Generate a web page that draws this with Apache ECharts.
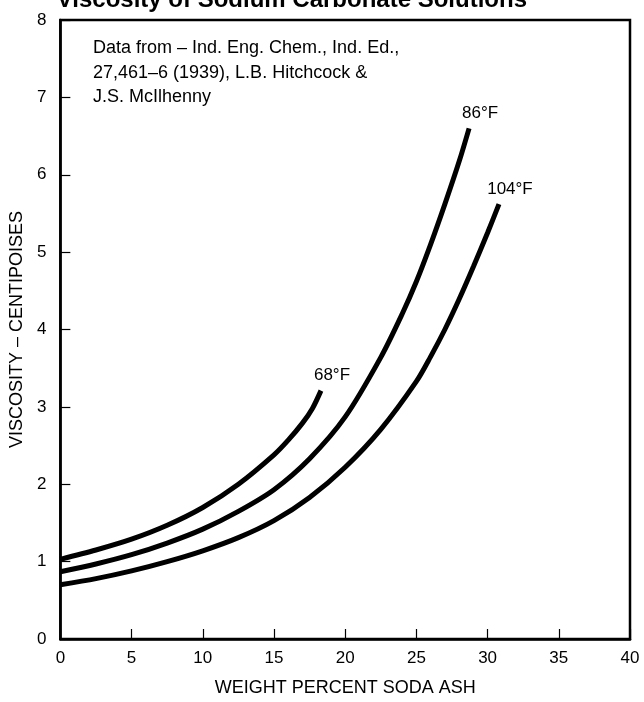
<!DOCTYPE html>
<html>
<head>
<meta charset="utf-8">
<script src="https://cdn.jsdelivr.net/npm/echarts@6/dist/echarts.min.js"></script>
<style>html,body{margin:0;padding:0;background:#fff}#c{width:644px;height:702px}</style>
</head>
<body>
<div id="c"></div>
<script>
var xTicks = [0, 5, 10, 15, 20, 25, 30, 35, 40];
var yTicks = [0, 1, 2, 3, 4, 5, 6, 7, 8];

var x68 = [0, 2.5, 5, 7.5, 10, 12.5, 15, 16, 17, 17.7, 18.3];
var v68 = [1.03, 1.15, 1.29, 1.47, 1.70, 2.00, 2.38, 2.57, 2.79, 2.98, 3.21];

var x86 = [0, 2.5, 5, 7.5, 10, 12.5, 15, 17.5, 20, 22.5, 24, 25, 26, 27, 28, 28.7];
var v86 = [0.87, 0.97, 1.09, 1.24, 1.42, 1.65, 1.93, 2.33, 2.87, 3.64, 4.20, 4.62, 5.10, 5.62, 6.17, 6.60];

var x104 = [0, 2.5, 5, 7.5, 10, 12.5, 15, 17.5, 20, 22.5, 25, 26, 27, 28, 29, 30, 30.8];
var v104 = [0.70, 0.78, 0.88, 1.00, 1.14, 1.31, 1.53, 1.83, 2.22, 2.71, 3.33, 3.65, 4.00, 4.39, 4.81, 5.25, 5.62];

var names = ['68°F', '86°F', '104°F'];
var titleText = 'Viscosity of Sodium Carbonate Solutions';
var noteText = 'Data from – Ind. Eng. Chem., Ind. Ed.,\n27,461–6 (1939), L.B. Hitchcock &\nJ.S. McIlhenny';

function pairs(xs, vs) {
  return xs.map(function (x, i) { return [x, vs[i]]; });
}

var FONT = '"Liberation Sans", Arial, Helvetica, sans-serif';

function mkSeries(name, xs, vs) {
  return {
    name: name,
    type: 'line',
    smooth: 0.3,
    symbol: 'none',
    data: pairs(xs, vs),
    lineStyle: { color: '#000', width: 5, cap: 'butt' },
    endLabel: {
      show: true,
      formatter: name,
      distance: 0,
      align: 'center',
      verticalAlign: 'middle',
      offset: [11, -15],
      color: '#000',
      fontSize: 17,
      fontFamily: FONT
    },
    silent: true
  };
}

var chart = echarts.init(document.getElementById('c'), null, { renderer: 'canvas' });
chart.setOption({
  animation: false,
  backgroundColor: '#fff',
  textStyle: { fontFamily: FONT },
  grid: {
    left: 60, right: 14, top: 20, bottom: 60,
    show: true, borderColor: '#000', borderWidth: 2.5, containLabel: false
  },
  graphic: [
    {
      type: 'text',
      x: 527, y: 12,
      style: {
        text: titleText,
        fontFamily: FONT,
        fontWeight: 'bold',
        fontSize: 24,
        fill: '#000',
        align: 'right',
        verticalAlign: 'bottom'
      }
    },
    {
      type: 'text',
      x: 93, y: 36,
      style: {
        text: noteText,
        fontFamily: FONT,
        fontSize: 18,
        lineHeight: 24.5,
        fill: '#000',
        align: 'left',
        verticalAlign: 'top'
      }
    }
  ],
  xAxis: {
    type: 'value',
    min: 0, max: 40, interval: 5,
    name: 'WEIGHT PERCENT SODA ASH',
    nameLocation: 'middle',
    nameGap: 40,
    nameTextStyle: { color: '#000', fontSize: 18, fontFamily: FONT },
    axisLine: { show: true, lineStyle: { color: '#000', width: 2.5 } },
    axisTick: { show: true, inside: true, length: 10, lineStyle: { color: '#000', width: 1.2 } },
    axisLabel: {
      color: '#000', fontSize: 17, fontFamily: FONT, margin: 11,
      formatter: function (v) { return xTicks.indexOf(v) >= 0 ? String(v) : ''; }
    },
    splitLine: { show: false }
  },
  yAxis: {
    type: 'value',
    min: 0, max: 8, interval: 1,
    name: 'VISCOSITY – CENTIPOISES',
    nameLocation: 'middle',
    nameRotate: 90,
    nameGap: 33,
    nameTextStyle: { color: '#000', fontSize: 18, fontFamily: FONT },
    axisLine: { show: true, lineStyle: { color: '#000', width: 2.5 } },
    axisTick: { show: true, inside: true, length: 10, lineStyle: { color: '#000', width: 1.2 } },
    axisLabel: {
      color: '#000', fontSize: 17, fontFamily: FONT, margin: 14,
      formatter: function (v) { return yTicks.indexOf(v) >= 0 ? String(v) : ''; }
    },
    splitLine: { show: false }
  },
  series: [
    mkSeries(names[0], x68, v68),
    mkSeries(names[1], x86, v86),
    mkSeries(names[2], x104, v104)
  ]
});
</script>
</body>
</html>
